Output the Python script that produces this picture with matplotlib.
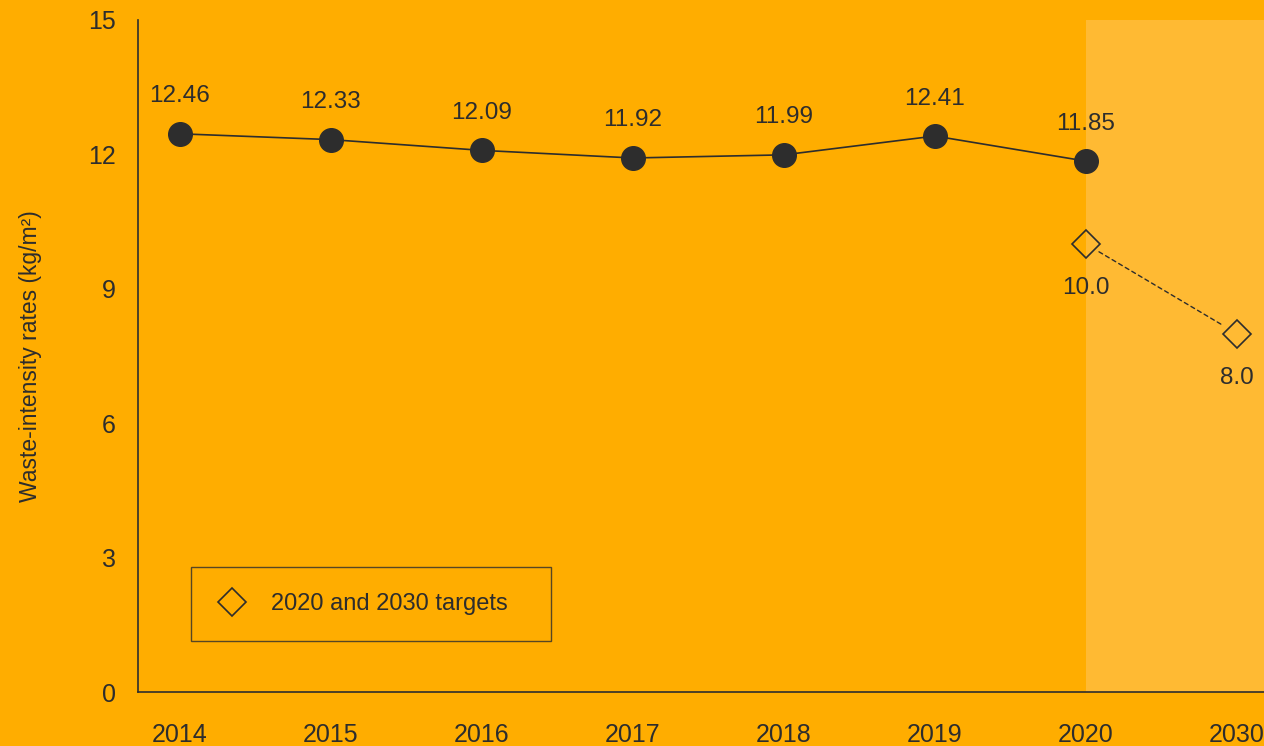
import matplotlib.pyplot as plt

years = ["2014", "2015", "2016", "2017", "2018", "2019", "2020", "2030"]
actual = [12.46, 12.33, 12.09, 11.92, 11.99, 12.41, 11.85]
target_years = ["2020", "2030"]
targets = [10.0, 8.0]

bg = "#FFAD00"
shade = "#FFBA33"
ink = "#2D2D2D"

plt.rcParams["font.family"] = ["Liberation Sans", "DejaVu Sans"]

fig = plt.figure(figsize=(12.64, 7.46), dpi=100, facecolor=bg)
ax = fig.add_axes([138 / 1264, 54 / 746, 1 - 138 / 1264, 672 / 746])
ax.set_facecolor(bg)

x = list(range(len(years)))
x_actual = x[:len(actual)]
x_target = [years.index(y) for y in target_years]

ax.axvspan(x_target[0], 7.3, color=shade, lw=0, zorder=0)

ax.plot(x_actual, actual, color=ink, lw=1.2, marker="o", ms=17,
        mfc=ink, mec=ink, zorder=3)
ax.plot(x_target, targets, ls="none", marker="D",
        ms=14.5, mfc="none", mec=ink, mew=1.2, zorder=3,
        label="2020 and 2030 targets")
# dashed link between targets, stopping at the diamond edges
ax.annotate("", xy=(x_target[1], targets[1]), xytext=(x_target[0], targets[0]),
            arrowprops=dict(arrowstyle="-", color=ink, lw=1, ls=(0, (3, 2.5)),
                            shrinkA=11, shrinkB=11), zorder=2)

for xi, v in zip(x_actual, actual):
    ax.annotate(f"{v:.2f}", (xi, v), xytext=(0, 27), textcoords="offset points",
                ha="center", va="center", fontsize=17.5, color=ink)
for xi, v in zip(x_target, targets):
    ax.annotate(f"{v:.1f}", (xi, v), xytext=(0, -32), textcoords="offset points",
                ha="center", va="center", fontsize=17.5, color=ink)

ax.set_xlim(-0.278, 7.18)
ax.set_ylim(0, 15)
ax.set_xticks(x)
ax.set_xticklabels(years)
ax.set_yticks([0, 3, 6, 9, 12, 15])
ax.tick_params(axis="both", length=0, labelsize=18, colors=ink)
ax.tick_params(axis="x", pad=22)
ax.tick_params(axis="y", pad=16)

for side in ["top", "right"]:
    ax.spines[side].set_visible(False)
for side in ["left", "bottom"]:
    ax.spines[side].set_color(ink)
    ax.spines[side].set_linewidth(1.2)

ax.set_ylabel("Waste-intensity rates (kg/m²)", fontsize=16.5, color=ink, labelpad=33)

leg = ax.legend(loc="lower left", bbox_to_anchor=(53 / 1126, 51 / 672, 360 / 1126, 0.1),
                mode="expand", borderaxespad=0, fontsize=17, frameon=True,
                fancybox=False, borderpad=1.1, handlelength=1.3, handletextpad=1.0)
leg.get_frame().set_edgecolor(ink)
leg.get_frame().set_facecolor(bg)
leg.get_frame().set_linewidth(1)
for t in leg.get_texts():
    t.set_color(ink)

fig.savefig("out.png", dpi=100, facecolor=bg)
